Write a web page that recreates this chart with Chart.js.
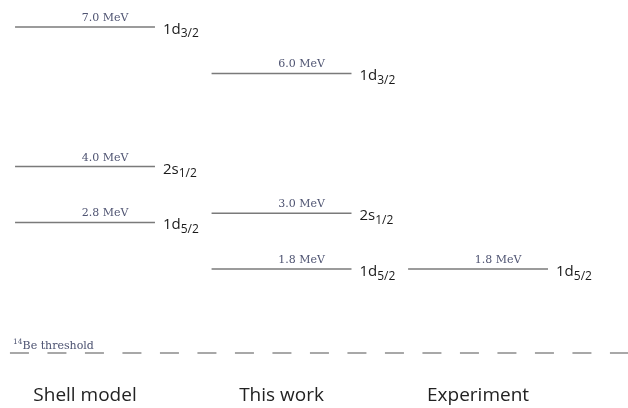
<!DOCTYPE html>
<html>
<head>
<meta charset="utf-8">
<script src="https://cdn.jsdelivr.net/npm/chart.js@4.4.1/dist/chart.umd.min.js"></script>
<style>
  html, body { margin: 0; padding: 0; background: #fff; }
  #wrap { width: 628px; height: 408px; }
</style>
</head>
<body>
<div id="wrap"><canvas id="niveis"></canvas></div>
<script>
// colunas e niveis (MeV)
const colunas = ["Shell model", "This work", "Experiment"];

const shellEnergias = [7.0, 4.0, 2.8];
const shellEstados = ["1d3/2", "2s1/2", "1d5/2"];

const thisWorkEnergias = [6.0, 3.0, 1.8];
const thisWorkEstados = ["1d3/2", "2s1/2", "1d5/2"];

const experimentEnergias = [1.8];
const experimentEstados = ["1d5/2"];

const limiarEnergia = 0;
const limiarTexto = ["14", "Be threshold"];

const meiaLargura = 0.356;

function montarNiveis(coluna, energias, estados) {
    return energias.map((e, i) => ({
        data: [{ x: coluna - meiaLargura, y: e }, { x: coluna + meiaLargura, y: e }],
        estado: estados[i],
        rotulo: e.toFixed(1) + " MeV",
        borderColor: "#7a7a7a",
        borderWidth: 1.5,
        showLine: true,
        pointRadius: 0
    }));
}

const datasets = [
    ...montarNiveis(0, shellEnergias, shellEstados),
    ...montarNiveis(1, thisWorkEnergias, thisWorkEstados),
    ...montarNiveis(2, experimentEnergias, experimentEstados),
    {
        data: [{ x: -0.382, y: limiarEnergia }, { x: 2.763, y: limiarEnergia }],
        limiar: true,
        borderColor: "#a8a8a8",
        borderWidth: 2,
        borderDash: [19, 18.5],
        showLine: true,
        pointRadius: 0
    }
];

const rotulosPlugin = {
    id: "rotulos",
    afterDatasetsDraw(chart) {
        const ctx = chart.ctx;
        const x = chart.scales.x;
        const y = chart.scales.y;
        ctx.save();
        chart.data.datasets.forEach(ds => {
            const p0 = ds.data[0], p1 = ds.data[1];
            const xa = x.getPixelForValue(p0.x);
            const xb = x.getPixelForValue(p1.x);
            const py = y.getPixelForValue(p0.y);
            if (ds.limiar) {
                ctx.fillStyle = "#4b5170";
                ctx.textAlign = "left";
                ctx.textBaseline = "alphabetic";
                ctx.font = "7.5px 'DejaVu Serif'";
                ctx.fillText(limiarTexto[0], 13, py - 9);
                const w = ctx.measureText(limiarTexto[0]).width;
                ctx.font = "11px 'DejaVu Serif'";
                ctx.fillText(limiarTexto[1], 13 + w, py - 4);
                return;
            }
            // energia acima da linha
            ctx.fillStyle = "#4f5472";
            ctx.font = "11px 'DejaVu Serif'";
            ctx.textAlign = "center";
            ctx.textBaseline = "alphabetic";
            ctx.fillText(ds.rotulo, (xa + xb) / 2 + 20, py - 6);
            // estado a direita
            const principal = ds.estado.slice(0, 2);
            const sub = ds.estado.slice(2);
            ctx.fillStyle = "#1a1a1a";
            ctx.textAlign = "left";
            ctx.font = "15px 'Open Sans'";
            ctx.fillText(principal, xb + 8, py + 7);
            const w = ctx.measureText(principal).width;
            ctx.font = "12px 'Open Sans'";
            ctx.fillText(sub, xb + 8 + w, py + 10.5);
        });
        ctx.restore();
    }
};

document.addEventListener("DOMContentLoaded", function () {
    new Chart(document.getElementById("niveis"), {
        type: "scatter",
        data: { datasets: datasets },
        plugins: [rotulosPlugin],
        options: {
            responsive: true,
            maintainAspectRatio: false,
            animation: false,
            layout: { padding: { top: 0, left: 0, right: 0, bottom: 0 } },
            plugins: {
                legend: { display: false },
                tooltip: { enabled: false }
            },
            scales: {
                x: {
                    type: "linear",
                    min: -0.4326,
                    max: 2.763,
                    border: { display: false },
                    grid: { display: false, drawTicks: false },
                    afterBuildTicks: function (scale) {
                        scale.ticks = colunas.map((c, i) => ({ value: i }));
                    },
                    ticks: {
                        autoSkip: false,
                        maxRotation: 0,
                        padding: 1,
                        color: "#222",
                        font: { family: "'Open Sans'", size: 19 },
                        callback: function (v) {
                            return colunas[v];
                        }
                    }
                },
                y: {
                    display: false,
                    min: -0.651,
                    max: 7.578
                }
            }
        }
    });
});
</script>
</body>
</html>
